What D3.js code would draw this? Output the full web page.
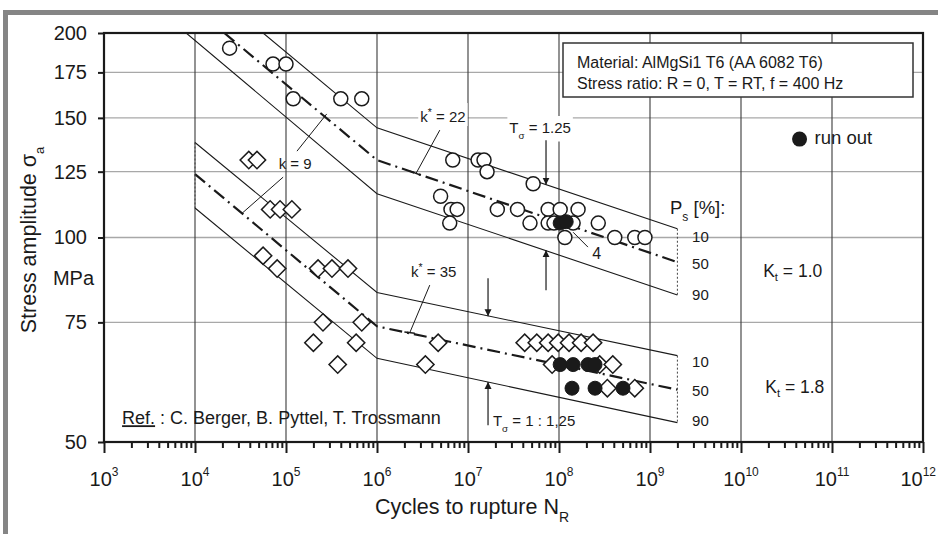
<!DOCTYPE html>
<html lang="en">
<head>
<meta charset="UTF-8">
<title>S-N curves AlMgSi1 T6</title>
<script src="https://d3js.org/d3.v7.min.js"></script>
<style>
  body { margin: 0; background: #fff; }
  svg { display: block; font-family: "Liberation Sans", Arial, sans-serif; }
</style>
</head>
<body>
<svg width="938" height="534"></svg>
<script>
// ---- data ----
// Kt = 1.0, open circles (cycles, stress amplitude MPa)
const kt10N = [2.4e4, 7.2e4, 1.0e5, 1.2e5, 4.0e5, 6.8e5, 6.8e6, 1.29e7, 1.5e7, 1.62e7,
               5.2e7, 5.0e6, 6.5e6, 7.6e6, 6.3e6, 2.1e7, 3.5e7, 4.8e7, 7.6e7, 1.03e8,
               1.62e8, 7.6e7, 8.8e7, 1.43e8, 1.16e8, 2.7e8, 4.1e8, 6.8e8, 8.8e8];
const kt10S = [190, 180, 180, 160, 160, 160, 130, 130, 130, 125,
               120, 115, 110, 110, 105, 110, 110, 105, 110, 110,
               110, 105, 105, 105, 100, 105, 100, 100, 100];
const kt10RunN = [1.03e8, 1.2e8];
const kt10RunS = [105, 105.5];

// Kt = 1.8, open diamonds
const kt18N = [3.9e4, 4.8e4, 6.7e4, 8.6e4, 1.16e5, 5.6e4, 8.0e4, 2.25e5, 3.2e5, 4.8e5,
               2.55e5, 6.8e5, 2.0e5, 5.9e5, 3.7e5, 4.7e6, 3.4e6, 4.2e7, 5.7e7, 7.6e7,
               9.8e7, 1.29e8, 1.75e8, 2.37e8, 8.4e7, 2.8e8, 3.9e8, 3.4e8, 6.8e8];
const kt18S = [130, 130, 110, 110, 110, 94, 90, 90, 90, 90,
               75, 75, 70, 70, 65, 70, 65, 70, 70, 70,
               70, 70, 70, 70, 65, 65, 65, 60, 60];
const kt18RunN = [1.03e8, 1.43e8, 2.08e8, 2.49e8, 1.39e8, 2.49e8, 5.05e8];
const kt18RunS = [65, 65, 65, 65, 60, 60, 60];

// scatter band lines: [cycles, stress] vertices (10 %, 50 %, 90 %)
const kt10Upper  = [[5.6e4, 200], [1e6, 145], [2e9, 103]];
const kt10Median = [[2.1e4, 200], [1e6, 130], [2e9, 92]];
const kt10Lower  = [[8.0e3, 200], [1e6, 116], [2e9, 82.3]];
const kt18Upper  = [[1e4, 138], [1e6, 83], [2e9, 67]];
const kt18Median = [[1e4, 124], [1e6, 74], [2e9, 59.7]];
const kt18Lower  = [[1e4, 110.5], [1e6, 66.4], [2e9, 53.4]];

const psLabels = ["10", "50", "90"];
const psKt10S = [100, 91, 82];
const psKt18S = [65.3, 59.2, 53.5];

const xExponents = [3, 4, 5, 6, 7, 8, 9, 10, 11, 12];
const yTicks = [50, 75, 100, 125, 150, 175, 200];
const yGrid = [75, 100, 125, 150, 175];

// ---- layout ----
const svg = d3.select("svg");
const x = d3.scaleLog().domain([1e3, 1e12]).range([104, 923]);
const y = d3.scaleLog().domain([50, 200]).range([442, 33]);
const ink = "#1a1a1a";

// outer grey frame
svg.append("rect").attr("x", 3).attr("y", 10).attr("width", 935).attr("height", 5).attr("fill", "#858585");
svg.append("rect").attr("x", 3).attr("y", 10).attr("width", 5).attr("height", 524).attr("fill", "#858585");

const defs = svg.append("defs");
defs.append("clipPath").attr("id", "plot")
  .append("rect").attr("x", 104).attr("y", 33).attr("width", 819).attr("height", 409);
defs.append("marker").attr("id", "arrow")
  .attr("viewBox", "0 0 10 10").attr("refX", 10).attr("refY", 5)
  .attr("markerWidth", 7).attr("markerHeight", 9).attr("markerUnits", "userSpaceOnUse")
  .attr("orient", "auto")
  .append("path").attr("d", "M0,0 L10,5 L0,10 Z").attr("fill", ink);

// grid
const grid = svg.append("g");
grid.selectAll(".hg").data(yGrid).enter().append("line")
  .attr("x1", x(1e3)).attr("x2", x(1e12))
  .attr("y1", d => y(d)).attr("y2", d => y(d))
  .attr("stroke", "#a8a8a8").attr("stroke-width", 1.4);
grid.selectAll(".vg").data(xExponents.slice(1, -1)).enter().append("line")
  .attr("x1", d => x(Math.pow(10, d))).attr("x2", d => x(Math.pow(10, d)))
  .attr("y1", y(200)).attr("y2", y(50))
  .attr("stroke", "#3a3a3a").attr("stroke-width", 1.1);

// scatter bands
const line = d3.line().x(d => x(d[0])).y(d => y(d[1]));
const bands = svg.append("g").attr("clip-path", "url(#plot)").attr("fill", "none");
[kt10Upper, kt10Lower, kt18Upper, kt18Lower].forEach(v => {
  bands.append("path").attr("d", line(v)).attr("stroke", ink).attr("stroke-width", 1.1);
});
[kt10Median, kt18Median].forEach(v => {
  bands.append("path").attr("d", line(v)).attr("stroke", ink).attr("stroke-width", 2.2)
    .attr("stroke-dasharray", "13,5,2,5");
});
// dotted band ends
[[kt10Upper, kt10Lower, 2], [kt18Upper, kt18Lower, 2], [kt18Upper, kt18Lower, 0]].forEach(([u, l, i]) => {
  bands.append("line")
    .attr("x1", x(u[i][0])).attr("x2", x(l[i][0]))
    .attr("y1", y(u[i][1])).attr("y2", y(l[i][1]))
    .attr("stroke", "#444").attr("stroke-width", 1).attr("stroke-dasharray", "2,2");
});

// annotations
const ann = svg.append("g").attr("fill", ink);
function leader(pts, w) {
  ann.append("path").attr("d", line(pts)).attr("fill", "none")
    .attr("stroke", ink).attr("stroke-width", w || 1);
}
function arrow(n, s0, s1) {
  ann.append("line").attr("x1", x(n)).attr("x2", x(n))
    .attr("y1", y(s0)).attr("y2", y(s1))
    .attr("stroke", ink).attr("stroke-width", 1.2).attr("marker-end", "url(#arrow)");
}
function label(n, s, parts, opts) {
  opts = opts || {};
  const t = ann.append("text").attr("x", x(n)).attr("y", y(s))
    .attr("font-size", opts.size || 15).attr("text-anchor", opts.anchor || "start")
    .attr("dominant-baseline", opts.baseline || "auto");
  parts.forEach(p => {
    const ts = t.append("tspan").text(p.t);
    if (p.sub) ts.attr("baseline-shift", "sub").attr("font-size", "65%");
    if (p.sup) ts.attr("baseline-shift", "super").attr("font-size", "70%");
    if (p.u) ts.attr("text-decoration", "underline");
  });
  if (opts.bg) {
    const b = t.node().getBBox();
    ann.insert("rect", () => t.node())
      .attr("x", b.x - 2).attr("y", b.y - 3).attr("width", b.width + 4).attr("height", b.height + 4)
      .attr("fill", "#fff");
  }
  return t;
}

// k = 9
leader([[2.8e5, 152], [1.32e5, 134]]);
leader([[9.3e4, 122.7], [3.3e4, 108.6]]);
label(1.26e5, 126.1, [{t: "k = 9"}], {anchor: "middle"});
// k* = 22
leader([[4.9e6, 143.9], [2.69e6, 124.3]]);
leader([[2.3e6, 125.2], [3.0e6, 123.6]], 1.4);
label(5.3e6, 147.9, [{t: "k"}, {t: "*", sup: true}, {t: " = 22"}], {anchor: "middle", bg: true});
// k* = 35
leader([[3.8e6, 85.1], [2.3e6, 72.5]]);
leader([[2.0e6, 72.6], [2.6e6, 72.3]], 1.4);
label(4.2e6, 87.4, [{t: "k"}, {t: "*", sup: true}, {t: " = 35"}], {anchor: "middle", bg: true});
// T sigma
label(6.2e7, 142.5, [{t: "T"}, {t: "σ", sub: true}, {t: " = 1.25"}], {anchor: "middle", bg: true});
arrow(7.2e7, 139, 119.6);
arrow(7.2e7, 83.6, 95.8);
arrow(1.66e7, 87.1, 76.6);
arrow(1.66e7, 52.9, 61.3);
label(1.88e7, 52.8, [{t: "T"}, {t: "σ", sub: true}, {t: " = 1 : 1,25"}], {size: 15});
// 4 run outs
leader([[1.43e8, 101.8], [2.08e8, 96.8]]);
label(2.6e8, 92.9, [{t: "4"}], {anchor: "middle", size: 16});
// P_s
label(1.66e9, 108.2, [{t: "P"}, {t: "s", sub: true}, {t: " [%]:"}], {size: 18.5});
psLabels.forEach((p, i) => {
  label(2.9e9, psKt10S[i], [{t: p}], {size: 15, baseline: "middle"});
  label(2.9e9, psKt18S[i], [{t: p}], {size: 15, baseline: "middle"});
});
label(3.7e10, 88.9, [{t: "K"}, {t: "t", sub: true}, {t: " = 1.0"}], {anchor: "middle", baseline: "middle", size: 17.5});
label(3.9e10, 60.0, [{t: "K"}, {t: "t", sub: true}, {t: " = 1.8"}], {anchor: "middle", baseline: "middle", size: 17.5});
label(1.58e3, 53.1, [{t: "Ref.", u: true}, {t: " : C. Berger, B. Pyttel, T. Trossmann"}], {size: 18});

// markers
const marks = svg.append("g");
marks.selectAll(".c").data(d3.zip(kt10N, kt10S)).enter().append("circle")
  .attr("cx", d => x(d[0])).attr("cy", d => y(d[1])).attr("r", 7)
  .attr("fill", "#fff").attr("stroke", ink).attr("stroke-width", 1.5);
const diamond = d3.symbol().type(d3.symbolSquare).size(150);
marks.selectAll(".d").data(d3.zip(kt18N, kt18S)).enter().append("path")
  .attr("d", diamond)
  .attr("transform", d => `translate(${x(d[0])},${y(d[1])}) rotate(45)`)
  .attr("fill", "#fff").attr("stroke", ink).attr("stroke-width", 1.5);
marks.selectAll(".r").data(d3.zip(kt10RunN.concat(kt18RunN), kt10RunS.concat(kt18RunS))).enter().append("circle")
  .attr("cx", d => x(d[0])).attr("cy", d => y(d[1])).attr("r", 7)
  .attr("fill", ink).attr("stroke", ink).attr("stroke-width", 1);

// axes
svg.append("g").attr("transform", `translate(0,${y(50)})`)
  .call(d3.axisBottom(x).tickValues(xExponents.map(e => Math.pow(10, e))).tickSize(11).tickFormat(""));
const minors = [];
xExponents.slice(0, -1).forEach(e => { for (let m = 2; m < 10; m++) minors.push(m * Math.pow(10, e)); });
svg.append("g").attr("transform", `translate(0,${y(50)})`)
  .call(d3.axisBottom(x).tickValues(minors).tickSize(6).tickFormat(""));
svg.selectAll(".domain").remove();
svg.selectAll(".tick line").attr("stroke", ink).attr("stroke-width", 2);

xExponents.forEach((e, i) => {
  const last = i === xExponents.length - 1;
  const t = svg.append("text").attr("x", last ? 936 : x(Math.pow(10, e))).attr("y", 486)
    .attr("text-anchor", last ? "end" : "middle").attr("font-size", 20).attr("fill", ink);
  t.append("tspan").text("10");
  t.append("tspan").text(e).attr("font-size", 12).attr("dy", -10);
});

const yAxis = svg.append("g").attr("transform", `translate(${x(1e3)},0)`)
  .call(d3.axisLeft(y).tickValues(yTicks).tickFormat(d3.format("d")).tickSize(6).tickPadding(11));
yAxis.select(".domain").remove();
yAxis.selectAll(".tick line").attr("stroke", ink).attr("stroke-width", 2);
yAxis.selectAll("text").attr("font-size", 20).attr("fill", ink)
  .attr("font-family", "Liberation Sans, Arial, sans-serif");

svg.append("text").attr("x", 94).attr("y", 280).attr("text-anchor", "end")
  .attr("dominant-baseline", "middle").attr("font-size", 20).attr("fill", ink).text("MPa");

// plot frame
svg.append("rect").attr("x", x(1e3)).attr("y", y(200))
  .attr("width", x(1e12) - x(1e3)).attr("height", y(50) - y(200))
  .attr("fill", "none").attr("stroke", ink).attr("stroke-width", 2.2);

// axis titles
const yt = svg.append("text").attr("transform", "translate(36,240) rotate(-90)")
  .attr("text-anchor", "middle").attr("font-size", 21.5).attr("fill", ink);
yt.append("tspan").text("Stress amplitude σ");
yt.append("tspan").text("a").attr("font-size", 13).attr("baseline-shift", "sub");

const xt = svg.append("text").attr("x", 472).attr("y", 514)
  .attr("text-anchor", "middle").attr("font-size", 21.5).attr("fill", ink);
xt.append("tspan").text("Cycles to rupture N");
xt.append("tspan").text("R").attr("font-size", 14).attr("baseline-shift", "sub");

// legend
svg.append("rect").attr("x", 563).attr("y", 43).attr("width", 350).attr("height", 54)
  .attr("fill", "#fff").attr("stroke", "#333").attr("stroke-width", 1.5);
svg.append("text").attr("x", 577).attr("y", 68).attr("font-size", 16).attr("fill", ink)
  .text("Material: AlMgSi1 T6 (AA 6082 T6)");
svg.append("text").attr("x", 577).attr("y", 89).attr("font-size", 16).attr("fill", ink)
  .text("Stress ratio: R = 0, T = RT, f = 400 Hz");
svg.append("circle").attr("cx", x(4.4e10)).attr("cy", y(139.6)).attr("r", 7.5).attr("fill", ink);
svg.append("text").attr("x", x(4.4e10) + 15).attr("y", y(139.6)).attr("dominant-baseline", "middle")
  .attr("font-size", 18.5).attr("fill", ink).text("run out");
</script>
</body>
</html>
